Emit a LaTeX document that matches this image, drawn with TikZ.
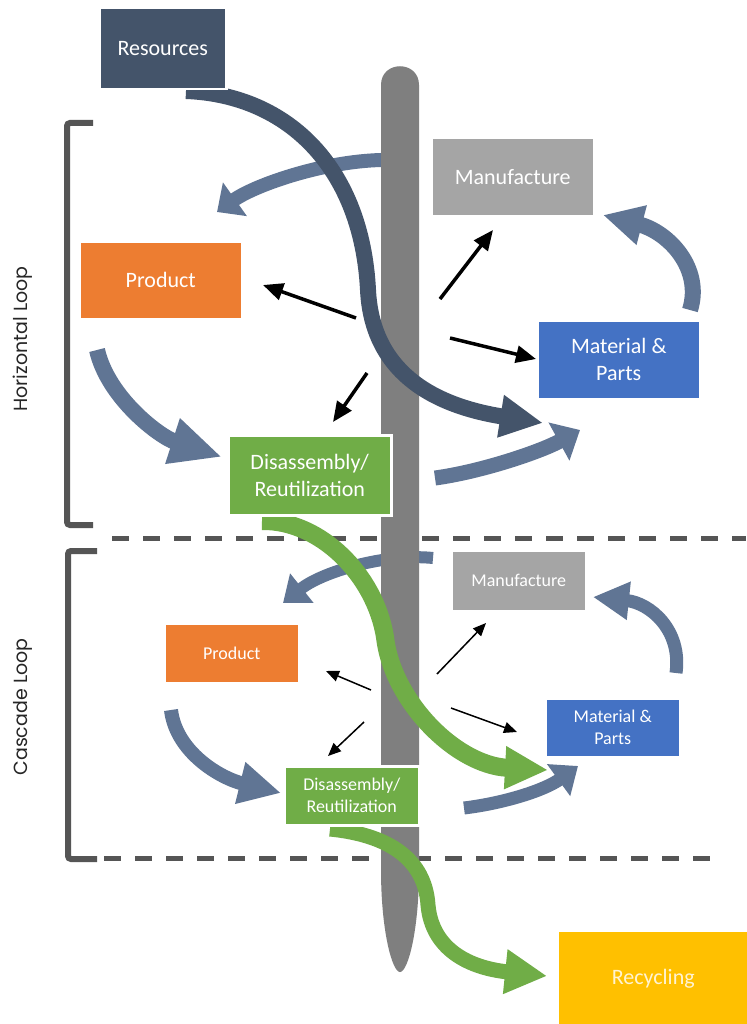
\documentclass[tikz,border=0pt]{standalone}
\usepackage{fontspec}
\setmainfont{Carlito}
\newfontfamily\loopfont{Poppins}
\usetikzlibrary{arrows.meta}

\definecolor{slateblue}{HTML}{44546A}
\definecolor{cycleblue}{RGB}{96,117,148}
\definecolor{polegray}{HTML}{7F7F7F}
\definecolor{mfggray}{HTML}{A5A5A5}
\definecolor{prodorange}{HTML}{ED7D31}
\definecolor{matblue}{HTML}{4472C4}
\definecolor{disgreen}{HTML}{70AD47}
\definecolor{recyellow}{HTML}{FFC000}
\definecolor{rulegray}{HTML}{555555}
\definecolor{recytext}{HTML}{FFF3D2}

\tikzset{
  panel/.style={draw=white, line width=2.5pt, text=white, inner sep=0pt,
                anchor=north west, align=center},
  bigtext/.style={font=\fontsize{22}{27}\selectfont},
  smalltext/.style={font=\fontsize{18}{22}\selectfont},
  looplabel/.style={rotate=90, text=black!85, font=\loopfont\fontsize{19}{23}\selectfont},
  bracket/.style={draw=rulegray, line width=6pt, rounded corners=3pt},
  divider/.style={draw=rulegray, line width=5pt, dash pattern=on 17pt off 14pt},
  cycleflow/.style={draw=cycleblue, line width=#1},
  greenflow/.style={draw=disgreen, line width=#1},
  bolddir/.style={draw=black, line width=3.5pt, -{Triangle[length=20pt,width=17pt]}},
  thindir/.style={draw=black, line width=1.5pt, -{Triangle[length=13pt,width=11pt]}},
}

\begin{document}
\begin{tikzpicture}[x=1pt,y=-1pt]
\fill[white] (0,0) rectangle (746,1024);
\useasboundingbox (0,0) rectangle (746,1024);

% loop brackets and section dividers
\draw[bracket] (93,123) -- (67,123) -- (67,525) -- (93,525);
\draw[bracket] (97,551) -- (68,551) -- (68,859) -- (97,859);
\draw[divider] (112,538) -- (746,538);
\draw[divider] (104,858) -- (722,858);

\node[looplabel] (hloop) at (23,339) {Horizontal Loop};
\node[looplabel] (cloop) at (23,707) {Cascade Loop};

% cycle arrows, horizontal loop
\coordinate (h1a) at (395,160);  \coordinate (h1b) at (217,212);
\coordinate (h2a) at (690,310);  \coordinate (h2b) at (603,215);
\coordinate (h3a) at (97,350);   \coordinate (h3b) at (222,457);
\coordinate (h4a) at (435,478);  \coordinate (h4b) at (580,430);
\draw[cycleflow=14pt, -{Triangle[length=22pt,width=40pt]}]
  (h1a) .. controls (330,158) and (255,185) .. (h1b);
\draw[cycleflow=16pt, -{Triangle[length=40pt,width=38pt]}]
  (h2a) .. controls (703,268) and (668,232) .. (h2b);
\draw[cycleflow=16pt, -{Triangle[length=52pt,width=44pt]}]
  (h3a) .. controls (108,398) and (160,437) .. (h3b);
\draw[cycleflow=15pt, -{Triangle[length=24pt,width=42pt]}]
  (h4a) .. controls (480,472) and (540,452) .. (h4b);

% cycle arrows, cascade loop
\coordinate (c1a) at (433,558);  \coordinate (c1b) at (283,603);
\coordinate (c2a) at (676,673);  \coordinate (c2b) at (593,597);
\coordinate (c3a) at (171,710);  \coordinate (c3b) at (281,793);
\coordinate (c4a) at (464,808);  \coordinate (c4b) at (578,766);
\draw[cycleflow=12pt, -{Triangle[length=24pt,width=36pt]}]
  (c1a) .. controls (385,553) and (322,572) .. (c1b);
\draw[cycleflow=13pt, -{Triangle[length=36pt,width=36pt]}]
  (c2a) .. controls (682,630) and (650,603) .. (c2b);
\draw[cycleflow=14pt, -{Triangle[length=42pt,width=40pt]}]
  (c3a) .. controls (176,752) and (220,778) .. (c3b);
\draw[cycleflow=13pt, -{Triangle[length=24pt,width=38pt]}]
  (c4a) .. controls (505,803) and (545,790) .. (c4b);

% central pole
\fill[polegray] (381,870) -- (381,85) .. controls (381,60) and (419,60) .. (419,85)
  -- (419,870) .. controls (419,930) and (408,972) .. (400,972)
  .. controls (392,972) and (381,930) .. (381,870) -- cycle;

% flow of resources into the loop
\coordinate (resout) at (186,91);
\coordinate (resin) at (543,423);
\draw[draw=slateblue, line width=16pt, -{Triangle[length=43pt,width=40pt]}]
  (resout) .. controls (290,95) and (362,170) .. (368,290)
  .. controls (372,370) and (430,405) .. (resin);

% green flows down to the cascade loop and to recycling
\coordinate (g1a) at (262,521);  \coordinate (g1b) at (548,770);
\coordinate (g2a) at (330,829);  \coordinate (g2b) at (547,976);
\draw[greenflow=18pt, -{Triangle[length=43pt,width=40pt]}]
  (g1a) .. controls (320,520) and (375,575) .. (385,637)
  .. controls (392,700) and (455,765) .. (g1b);
\draw[greenflow=15pt, -{Triangle[length=42pt,width=42pt]}]
  (g2a) .. controls (390,835) and (425,860) .. (428,905)
  .. controls (432,950) and (470,968) .. (g2b);

% stages, horizontal loop
\node[panel, bigtext, fill=slateblue, minimum width=127pt, minimum height=81pt] (res) at (98,7) {Resources};
\node[panel, bigtext, fill=mfggray, minimum width=163pt, minimum height=78pt] (mfg) at (430,137) {Manufacture};
\node[panel, bigtext, fill=prodorange, minimum width=163pt, minimum height=78pt] (prod) at (78,240) {Product};
\node[panel, bigtext, fill=matblue, minimum width=163pt, minimum height=79pt] (mat) at (536,319) {Material \&\\Parts};
\node[panel, bigtext, fill=disgreen, minimum width=163pt, minimum height=80pt] (dis) at (227,434) {Disassembly/\\Reutilization};

% stages, cascade loop
\node[panel, smalltext, fill=mfggray, minimum width=135pt, minimum height=61pt] (mfgc) at (450,549) {Manufacture};
\node[panel, smalltext, fill=prodorange, minimum width=135pt, minimum height=60pt] (prodc) at (163,622) {Product};
\node[panel, smalltext, fill=matblue, minimum width=135pt, minimum height=59pt] (matc) at (544,697) {Material \&\\Parts};
\node[panel, smalltext, fill=disgreen, minimum width=135pt, minimum height=59pt] (disc) at (283,765) {Disassembly/\\Reutilization};

% end of the chain
\node[panel, bigtext, text=recytext, fill=recyellow, draw=none, minimum width=188pt, minimum height=93pt] (recy) at (558,931) {Recycling};

% direction arrows, horizontal loop
\coordinate (d1a) at (356,318);  \coordinate (d1b) at (263,285);
\coordinate (d2a) at (440,299);  \coordinate (d2b) at (493,230);
\coordinate (d3a) at (450,338);  \coordinate (d3b) at (536,359);
\coordinate (d4a) at (367,373);  \coordinate (d4b) at (333,422);
\draw[bolddir] (d1a) -- (d1b);
\draw[bolddir] (d2a) -- (d2b);
\draw[bolddir] (d3a) -- (d3b);
\draw[bolddir] (d4a) -- (d4b);

% direction arrows, cascade loop
\coordinate (e1a) at (371,690);  \coordinate (e1b) at (326,671);
\coordinate (e2a) at (437,674);  \coordinate (e2b) at (486,623);
\coordinate (e3a) at (451,708);  \coordinate (e3b) at (517,732);
\coordinate (e4a) at (364,722);  \coordinate (e4b) at (328,756);
\draw[thindir] (e1a) -- (e1b);
\draw[thindir] (e2a) -- (e2b);
\draw[thindir] (e3a) -- (e3b);
\draw[thindir] (e4a) -- (e4b);
\end{tikzpicture}
\end{document}
